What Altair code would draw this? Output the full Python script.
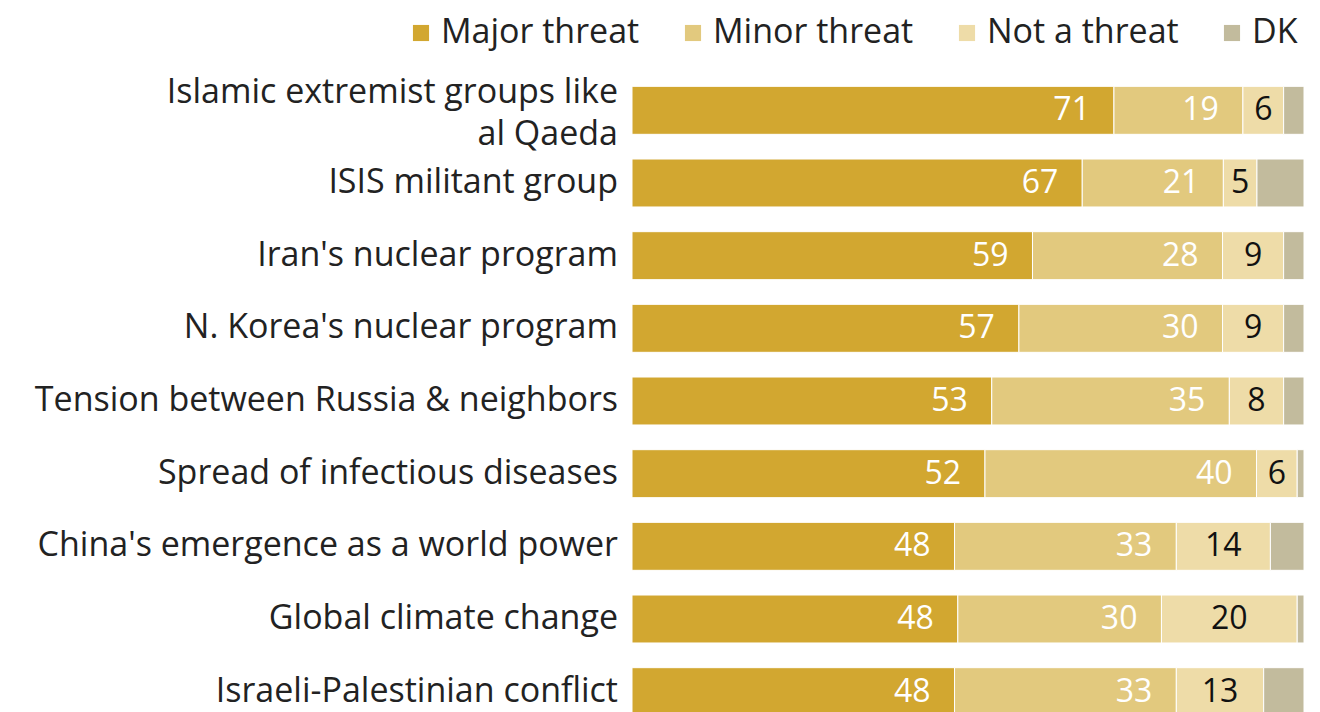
import altair as alt
import pandas as pd

categories = [
    "Islamic extremist groups like|al Qaeda",
    "ISIS militant group",
    "Iran's nuclear program",
    "N. Korea's nuclear program",
    "Tension between Russia & neighbors",
    "Spread of infectious diseases",
    "China's emergence as a world power",
    "Global climate change",
    "Israeli-Palestinian conflict",
]
series = ["Major threat", "Minor threat", "Not a threat", "DK"]
major = [71, 67, 59, 57, 53, 52, 48, 48, 48]
minor = [19, 21, 28, 30, 35, 40, 33, 30, 33]
not_threat = [6, 5, 9, 9, 8, 6, 14, 20, 13]
dk = [3, 7, 3, 3, 3, 1, 5, 1, 6]
colors = ["#D2A730", "#E2C97E", "#EEDCA8", "#C2BB9D"]

rows = []
for i, c in enumerate(categories):
    for j, (s, vals) in enumerate(zip(series, [major, minor, not_threat, dk])):
        rows.append({"cat": c, "series": s, "order": j, "value": vals[i]})
df = pd.DataFrame(rows)

FONT = "Open Sans"
FS = 34

base = alt.Chart(df).transform_stack(
    stack="value", groupby=["cat"], as_=["x0", "x1"], sort=[alt.SortField("order")], offset="normalize"
)

y_enc = alt.Y("cat:N", sort=categories, axis=None,
              scale=alt.Scale(paddingInner=0.34, paddingOuter=0.17))

bars = base.mark_bar(stroke="white", strokeWidth=1).encode(
    x=alt.X("x0:Q", axis=None, scale=alt.Scale(domain=[0, 1])),
    x2="x1:Q",
    y=y_enc,
    color=alt.Color(
        "series:N",
        scale=alt.Scale(domain=series, range=colors),
        sort=series,
        legend=alt.Legend(
            title=None, orient="none", direction="horizontal",
            legendX=-228, legendY=-58,
            labelFont=FONT, labelFontSize=FS, labelColor="#222", labelLimit=0,
            symbolType="square", symbolSize=260, symbolStrokeWidth=0,
            columnPadding=36, labelOffset=3, symbolOpacity=1,
        ),
    ),
    order=alt.Order("order:Q"),
)

right_labels = base.transform_filter(
    alt.FieldOneOfPredicate(field="series", oneOf=["Major threat", "Minor threat"])
).mark_text(align="right", baseline="middle", dx=-24, font=FONT, fontSize=32, color="white").encode(
    x="x1:Q", y=y_enc, text="value:Q"
)

center_labels = base.transform_filter(
    alt.FieldEqualPredicate(field="series", equal="Not a threat")
).transform_calculate(
    xm="(datum.x0 + datum.x1) / 2"
).mark_text(align="center", baseline="middle", font=FONT, fontSize=32, color="#111").encode(
    x="xm:Q", y=y_enc, text="value:Q"
)

cat_df = pd.DataFrame({"cat": categories})
single = alt.Chart(cat_df).transform_filter(
    "indexof(datum.cat, '|') < 0"
).mark_text(
    align="right", baseline="middle", font=FONT, fontSize=FS, color="#222", dx=-14,
).encode(x=alt.value(0), y=y_enc, text="cat:N")

multi = alt.Chart(cat_df).transform_filter(
    "indexof(datum.cat, '|') >= 0"
).mark_text(
    align="right", baseline="middle", lineBreak="|", font=FONT, fontSize=FS,
    color="#222", lineHeight=42, dx=-14, dy=-17,
).encode(x=alt.value(0), y=y_enc, text="cat:N")

chart = alt.layer(bars, right_labels, center_labels, single, multi).properties(
    width=672, height=654,
    autosize=alt.AutoSizeParams(type="none"),
    padding={"left": 624, "top": 66, "right": 8, "bottom": 0},
).configure_view(stroke=None)

chart.save("out.html", embed_options={"renderer": "svg", "actions": False})
